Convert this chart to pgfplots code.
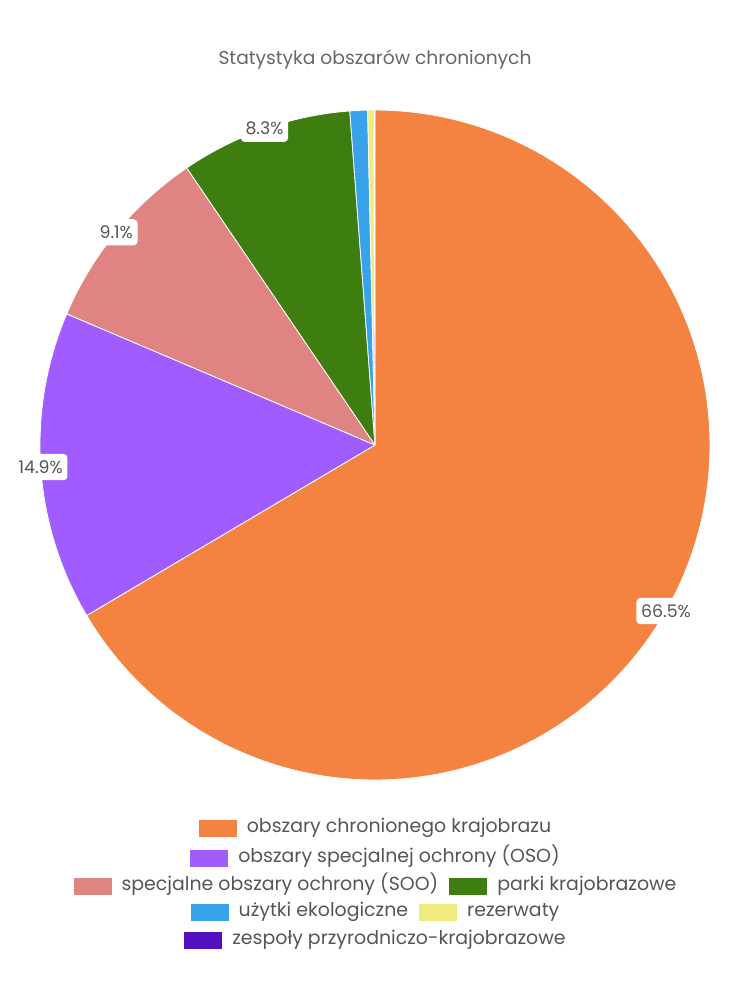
\documentclass[border=0pt]{standalone}
\usepackage{pgfplots}
\pgfplotsset{compat=1.18}
\usepackage{fontspec}
\setmainfont{Poppins}
\definecolor{cA}{HTML}{F48341}
\definecolor{cB}{HTML}{A05CFF}
\definecolor{cC}{HTML}{E08383}
\definecolor{cD}{HTML}{3E7D10}
\definecolor{cE}{HTML}{38A3EB}
\definecolor{cF}{HTML}{EFEB7F}
\definecolor{cG}{HTML}{5310C0}
\definecolor{txt}{HTML}{555555}
\definecolor{ttl}{HTML}{666666}
\newcommand{\sw}[1]{\raisebox{-0.22em}{\textcolor{#1}{\rule{28.5pt}{12.75pt}}}\hspace{7.5pt}}
\begin{document}
\begin{tikzpicture}
\path[use as bounding box] (0,0) rectangle (562.5pt,750pt);
\begin{axis}[
  scale only axis, width=562.5pt, height=750pt,
  xmin=0, xmax=750, ymin=0, ymax=1000, y dir=reverse,
  hide axis, clip=false]
\xdef\cum{0}
\foreach \v/\c in {66.5/cA,14.9/cB,9.1/cC,8.3/cD,0.85/cE,0.3/cF,0.05/cG} {
  \pgfmathsetmacro\a{90-3.6*\cum}
  \pgfmathsetmacro\b{90-3.6*(\cum+\v)}
  \edef\tmp{\noexpand\addplot[fill=\c, draw=white, line width=0.6pt, line join=round, domain=\b:\a, samples=120, variable=\noexpand\t]
    ({375+335*cos(\noexpand\t)},{445-335*sin(\noexpand\t)}) -- (axis cs:375,445) -- cycle;}
  \tmp
  \pgfmathsetmacro\newcum{\cum+\v}
  \xdef\cum{\newcum}
}
% percentage labels on the rim
\xdef\cum{0}
\foreach \v/\l in {66.5/66.5\%,14.9/14.9\%,9.1/9.1\%,8.3/8.3\%} {
  \pgfmathsetmacro\m{90-3.6*(\cum+\v/2)}
  \pgfmathsetmacro\px{375+335*cos(\m)}
  \pgfmathsetmacro\py{445-335*sin(\m)}
  \edef\tmp{\noexpand\node[fill=white, rounded corners=3pt, inner xsep=3.5pt, inner ysep=5pt, text=txt, font=\noexpand\fontsize{13pt}{15pt}\noexpand\selectfont] at (axis cs:\px,\py) {\l};}
  \tmp
  \pgfmathsetmacro\newcum{\cum+\v}
  \xdef\cum{\newcum}
}
\node[text=ttl, font=\fontsize{14pt}{16pt}\selectfont] at (axis cs:375,60) {Statystyka obszarów chronionych};
\begin{scope}[every node/.style={text=txt, font=\fontsize{14.2pt}{16pt}\selectfont, inner sep=0pt}]
\node at (axis cs:375,828) {\sw{cA}obszary chronionego krajobrazu};
\node at (axis cs:375,856) {\sw{cB}obszary specjalnej ochrony (OSO)};
\node at (axis cs:375,884) {\sw{cC}specjalne obszary ochrony (SOO)\hspace{8.25pt}\sw{cD}parki krajobrazowe};
\node at (axis cs:375,912) {\sw{cE}użytki ekologiczne\hspace{8.25pt}\sw{cF}rezerwaty};
\node at (axis cs:375,940) {\sw{cG}zespoły przyrodniczo-krajobrazowe};
\end{scope}
\end{axis}
\end{tikzpicture}
\end{document}
